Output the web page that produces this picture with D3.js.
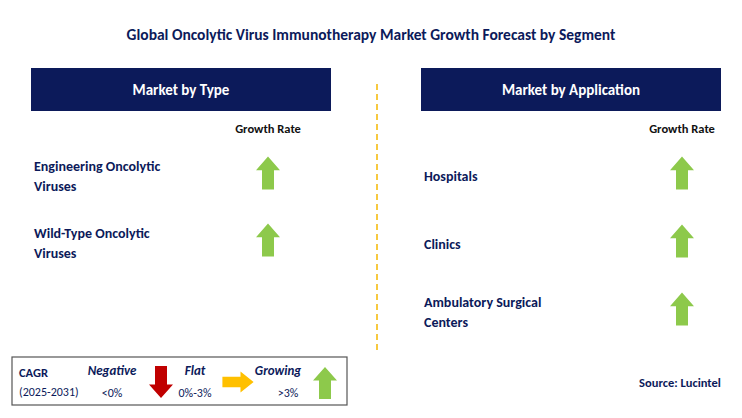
<!DOCTYPE html>
<html>
<head>
<meta charset="utf-8">
<script src="https://cdn.jsdelivr.net/npm/d3@7"></script>
<style>
  body { margin: 0; background: #fff; }
  text { font-family: Calibri, Carlito, "Open Sans", sans-serif; }
</style>
</head>
<body>
<script>
const typeSegments = [['Engineering Oncolytic', 'Viruses'], ['Wild-Type Oncolytic', 'Viruses']];
const typeGrowth = ['growing', 'growing'];
const appSegments = [['Hospitals'], ['Clinics'], ['Ambulatory Surgical', 'Centers']];
const appGrowth = ['growing', 'growing', 'growing'];

const navy = '#0c1a5a';
const green = '#8dc94b';

const svg = d3.select('body').append('svg')
  .attr('width', 742)
  .attr('height', 418);

svg.append('text')
  .attr('x', 371).attr('y', 40)
  .attr('text-anchor', 'middle')
  .attr('font-size', 15.5).attr('font-weight', 'bold')
  .attr('fill', navy)
  .text('Global Oncolytic Virus Immunotherapy Market Growth Forecast by Segment');

// up / down / right arrow shape, centred on (cx, cy)
function arrowPath(dir, cx, cy, w, h) {
  const sw = w * 0.5;
  const hh = h * 0.42;
  let pts = [
    [0, -h / 2], [w / 2, -h / 2 + hh], [sw / 2, -h / 2 + hh], [sw / 2, h / 2],
    [-sw / 2, h / 2], [-sw / 2, -h / 2 + hh], [-w / 2, -h / 2 + hh]
  ];
  if (dir === 'down') pts = pts.map(p => [p[0], -p[1]]);
  if (dir === 'right') pts = pts.map(p => [-p[1] * w / h * 1.3, p[0] * h / w * 0.65]);
  return 'M' + pts.map(p => (cx + p[0]) + ',' + (cy + p[1])).join('L') + 'Z';
}

function panel(x0, title, segs, growth, yRange, arrowX) {
  svg.append('rect')
    .attr('x', x0).attr('y', 68).attr('width', 300).attr('height', 43)
    .attr('fill', navy);
  svg.append('text')
    .attr('x', x0 + 150).attr('y', 95)
    .attr('text-anchor', 'middle')
    .attr('font-size', 15).attr('font-weight', 'bold').attr('fill', '#fff')
    .text(title);
  svg.append('text')
    .attr('x', arrowX).attr('y', 133)
    .attr('text-anchor', 'middle')
    .attr('font-size', 12.5).attr('font-weight', 'bold').attr('fill', '#111')
    .text('Growth Rate');

  const y = d3.scalePoint().domain(d3.range(segs.length)).range(yRange);

  const rows = svg.selectAll(null).data(segs).enter().append('g');
  rows.append('text')
    .attr('x', x0 + 3)
    .attr('font-size', 14).attr('font-weight', 'bold').attr('fill', navy)
    .each(function (d, i) {
      const t = d3.select(this);
      const top = y(i) - (d.length - 1) * 10 + 5;
      d.forEach((line, j) => {
        t.append('tspan').attr('x', x0 + 3).attr('y', top + j * 20).text(line);
      });
    });
  rows.append('path')
    .attr('d', (d, i) => arrowPath(growth[i] === 'growing' ? 'up' : 'down', arrowX, y(i) - 3, 24, 33))
    .attr('fill', green);
}

panel(31, 'Market by Type', typeSegments, typeGrowth, [176, 243], 268);
panel(421, 'Market by Application', appSegments, appGrowth, [176, 312], 682);

svg.append('line')
  .attr('x1', 377).attr('x2', 377).attr('y1', 84).attr('y2', 352)
  .attr('stroke', '#f5b800').attr('stroke-width', 1.5)
  .attr('stroke-dasharray', '6,4');

// legend
const lg = svg.append('g');
lg.append('rect')
  .attr('x', 12).attr('y', 357).attr('width', 335).attr('height', 48)
  .attr('fill', '#fff').attr('stroke', '#555').attr('stroke-width', 1.2);
const lt = (x, yy, txt, opts) => lg.append('text')
  .attr('x', x).attr('y', yy).attr('font-size', opts.size || 12)
  .attr('font-weight', opts.bold ? 'bold' : 'normal')
  .attr('font-style', opts.italic ? 'italic' : 'normal')
  .attr('text-anchor', opts.anchor || 'start')
  .attr('fill', navy).text(txt);
lt(19, 377, 'CAGR', { bold: true, size: 12.5 });
lt(19, 396, '(2025-2031)', { size: 12 });
lt(112, 375, 'Negative', { bold: true, italic: true, size: 13, anchor: 'middle' });
lt(112, 397, '<0%', { anchor: 'middle' });
lt(195, 375, 'Flat', { bold: true, italic: true, size: 13, anchor: 'middle' });
lt(195, 397, '0%-3%', { anchor: 'middle' });
lt(278, 375, 'Growing', { bold: true, italic: true, size: 13, anchor: 'middle' });
lt(288, 397, '>3%', { anchor: 'middle' });
lg.append('path').attr('d', arrowPath('down', 161, 382, 24, 32)).attr('fill', '#c00000');
lg.append('path').attr('d', arrowPath('right', 238, 382, 24, 32)).attr('fill', '#ffc000');
lg.append('path').attr('d', arrowPath('up', 325, 383, 24, 32)).attr('fill', green);

svg.append('text')
  .attr('x', 680).attr('y', 387)
  .attr('text-anchor', 'middle')
  .attr('font-size', 12.5).attr('font-weight', 'bold').attr('fill', navy)
  .text('Source: Lucintel');
</script>
</body>
</html>
